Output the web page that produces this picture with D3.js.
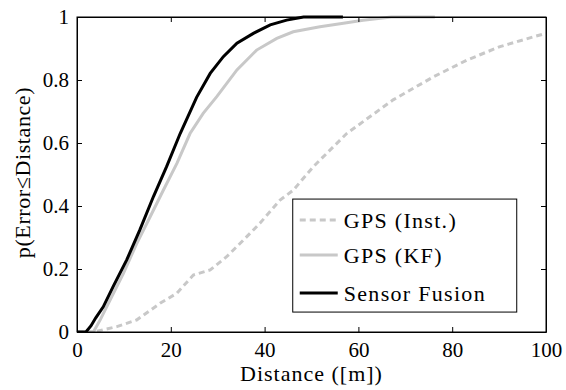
<!DOCTYPE html>
<html>
<head>
<meta charset="utf-8">
<script src="https://cdn.jsdelivr.net/npm/d3@7"></script>
<style>
  body { margin: 0; background: #fff; }
  text { font-family: "Liberation Serif", "Times New Roman", serif; fill: #000; }
</style>
</head>
<body>
<div class="cdf"></div>
<script>
// Data (distance in m, cumulative probability)
const fusionDist = [0, 1.9, 3, 4, 5.6, 7.7, 10.6, 13.4, 16.3, 19.1, 22, 25.5, 28.4, 31.2, 34.1, 37.6, 41.2, 44.7, 48.3, 56.7];
const fusionProb = [0, 0, 0.02, 0.045, 0.08, 0.144, 0.229, 0.324, 0.43, 0.525, 0.63, 0.745, 0.821, 0.874, 0.917, 0.948, 0.975, 0.99, 1.0, 1.0];

const kfDist = [0, 3.5, 5, 7.0, 9.9, 12.7, 15.6, 18.4, 21.3, 24.1, 26.9, 29.8, 34.1, 38.3, 42.6, 46.1, 51.8, 56.8, 61, 67, 76.3];
const kfProb = [0, 0, 0.04, 0.10, 0.186, 0.28, 0.366, 0.45, 0.535, 0.63, 0.694, 0.747, 0.832, 0.895, 0.932, 0.953, 0.969, 0.98, 0.99, 1.0, 1.0];

const instDist = [0, 3.5, 8.5, 12.7, 17.7, 21.3, 24.8, 28.4, 31.9, 35.5, 39, 43.3, 46.1, 50.4, 57.5, 67.4, 76, 83.1, 90.2, 97.3, 100];
const instProb = [0, 0, 0.017, 0.038, 0.091, 0.123, 0.181, 0.197, 0.239, 0.292, 0.345, 0.419, 0.45, 0.525, 0.63, 0.737, 0.81, 0.863, 0.906, 0.937, 0.948];

const xTicks = [0, 20, 40, 60, 80, 100];
const yTicks = [0, 0.2, 0.4, 0.6, 0.8, 1];
const legendLabels = ['GPS (Inst.)', 'GPS (KF)', 'Sensor Fusion'];

// Set up chart dimensions
const margin = { top: 17, right: 20, bottom: 58, left: 77 };
const width = 566 - margin.left - margin.right;
const height = 390 - margin.top - margin.bottom;

const svg = d3.select('.cdf')
  .append('svg')
  .attr('width', 566)
  .attr('height', 390)
  .append('g')
  .attr('transform', `translate(${margin.left},${margin.top})`);

const x = d3.scaleLinear().domain([0, 100]).range([0, width]);
const y = d3.scaleLinear().domain([0, 1]).range([height, 0]);

const series = [
  { dist: instDist, prob: instProb, color: '#c8c8c8', dash: '6,4' },
  { dist: kfDist, prob: kfProb, color: '#c8c8c8', dash: null },
  { dist: fusionDist, prob: fusionProb, color: '#000', dash: null }
];

svg.append('clipPath').attr('id', 'clip')
  .append('rect').attr('x', 0).attr('y', -2).attr('width', width).attr('height', height + 2);

const line = d3.line()
  .x(d => x(d[0]))
  .y(d => y(d[1]));

svg.append('g').attr('clip-path', 'url(#clip)')
  .selectAll('path')
  .data(series)
  .enter()
  .append('path')
  .attr('d', s => line(s.dist.map((d, i) => [d, s.prob[i]])))
  .attr('fill', 'none')
  .attr('stroke', s => s.color)
  .attr('stroke-width', 3)
  .attr('stroke-dasharray', s => s.dash);

// Axes, MATLAB style: inward ticks on all four sides
const tickLen = 5;
svg.append('g')
  .attr('class', 'x-axis')
  .attr('transform', `translate(0,${height})`)
  .call(d3.axisBottom(x).tickValues(xTicks).tickSizeInner(-tickLen).tickSizeOuter(0).tickPadding(10));
svg.append('g')
  .call(d3.axisTop(x).tickValues(xTicks).tickSizeInner(-tickLen).tickSizeOuter(0).tickFormat(''));
svg.append('g')
  .attr('class', 'y-axis')
  .call(d3.axisLeft(y).tickValues(yTicks).tickSizeInner(-tickLen).tickSizeOuter(0).tickPadding(8).tickFormat(d3.format('~g')));
svg.append('g')
  .attr('transform', `translate(${width},0)`)
  .call(d3.axisRight(y).tickValues(yTicks).tickSizeInner(-tickLen).tickSizeOuter(0).tickFormat(''));

svg.selectAll('.domain').attr('stroke', '#000');
svg.selectAll('.tick line').attr('stroke', '#000');
svg.selectAll('.x-axis text, .y-axis text')
  .style('font-family', '"Liberation Serif", serif')
  .style('font-size', '21px')
  .attr('fill', '#000');

svg.append('rect')
  .attr('width', width).attr('height', height)
  .attr('fill', 'none').attr('stroke', '#000').attr('stroke-width', 1);

// Axis labels
svg.append('text')
  .attr('x', width / 2)
  .attr('y', height + 49)
  .attr('text-anchor', 'middle')
  .style('font-size', '22px')
  .style('letter-spacing', '1px')
  .text('Distance ([m])');

svg.append('text')
  .attr('transform', 'rotate(-90)')
  .attr('x', -height / 2 + 2)
  .attr('y', -47)
  .attr('text-anchor', 'middle')
  .style('font-size', '22px')
  .style('letter-spacing', '0.6px')
  .text('p(Error\u2264Distance)');

// Legend
const legend = svg.append('g').attr('transform', `translate(${x(46)},${y(0.422)})`);
legend.append('rect')
  .attr('width', 224).attr('height', 113)
  .attr('fill', '#fff').attr('stroke', '#000').attr('stroke-width', 1);

const rows = legend.selectAll('.row')
  .data(series)
  .enter()
  .append('g')
  .attr('class', 'row')
  .attr('transform', (d, i) => `translate(0,${[21, 56, 94][i]})`);
rows.append('line')
  .attr('x1', 7).attr('x2', 45)
  .attr('stroke', s => s.color)
  .attr('stroke-width', 3)
  .attr('stroke-dasharray', s => s.dash);
rows.append('text')
  .attr('x', 51)
  .attr('dy', '0.35em')
  .style('font-size', '22px')
  .style('letter-spacing', '1.3px')
  .text((d, i) => legendLabels[i]);
</script>
</body>
</html>
